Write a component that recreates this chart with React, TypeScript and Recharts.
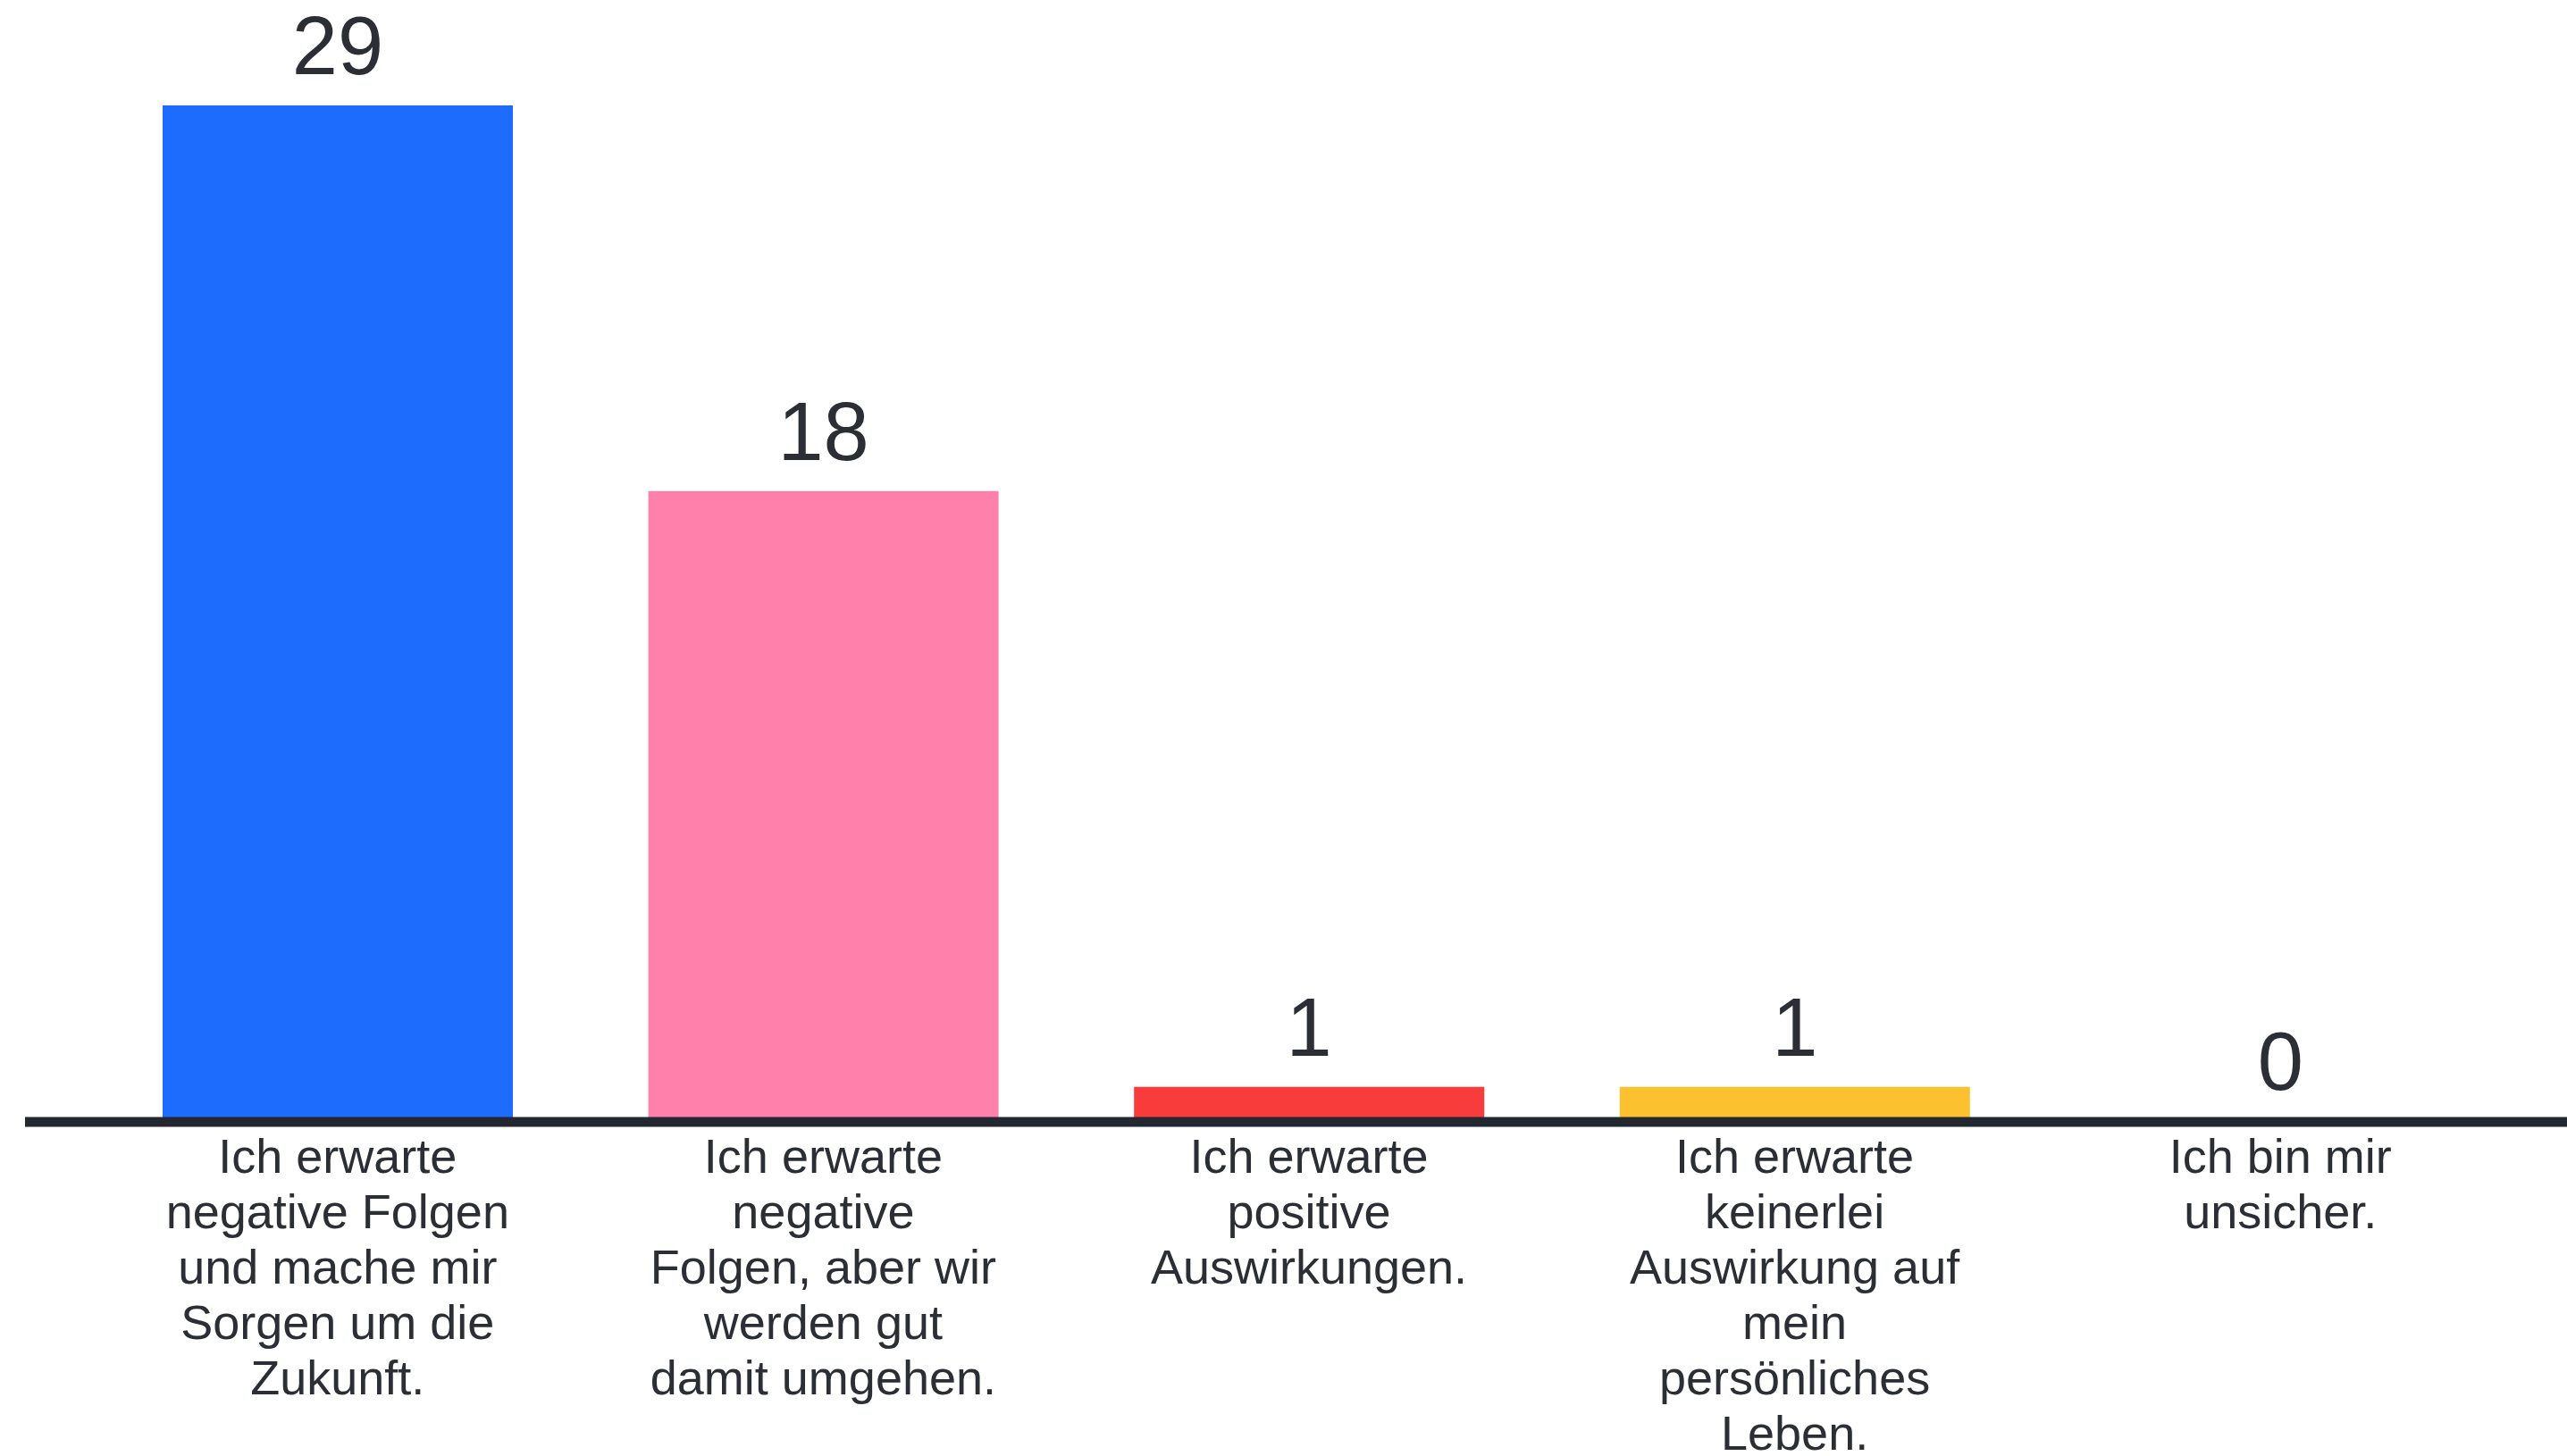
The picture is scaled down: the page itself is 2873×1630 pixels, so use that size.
import React from 'react';
import { BarChart, Bar, XAxis, YAxis, Cell, LabelList } from 'recharts';

const categories = ['negativ-sorgen', 'negativ-gut', 'positiv', 'keine', 'unsicher'];
const counts = [29, 18, 1, 1, 0];
const tickLines = [
  ['Ich erwarte', 'negative Folgen', 'und mache mir', 'Sorgen um die', 'Zukunft.'],
  ['Ich erwarte', 'negative', 'Folgen, aber wir', 'werden gut', 'damit umgehen.'],
  ['Ich erwarte', 'positive', 'Auswirkungen.'],
  ['Ich erwarte', 'keinerlei', 'Auswirkung auf', 'mein', 'persönliches', 'Leben.'],
  ['Ich bin mir', 'unsicher.'],
];
const barColors = ['#1d6cfd', '#ff80ab', '#f83b3b', '#fbc12e', 'transparent'];

const data = categories.map((c, i) => ({ name: c, value: counts[i] }));

const TEXT = '#2b2e35';

const CategoryTick = (props: any) => {
  const { x, y, index } = props;
  const lines = tickLines[index] || [];
  return (
    <text
      x={x}
      y={y}
      textAnchor="middle"
      fill={TEXT}
      fontFamily="'Liberation Sans', Arial, sans-serif"
      fontSize={54}
    >
      {lines.map((l, i) => (
        <tspan key={i} x={x} y={y + 57 + i * 62}>
          {l}
        </tspan>
      ))}
    </text>
  );
};

export default function App() {
  return (
    <div style={{ position: 'absolute', left: 0, top: 0, background: '#fff' }}>
      <BarChart
        width={2873}
        height={1630}
        data={data}
        margin={{ top: 118, right: 0, bottom: 0, left: 28 }}
      >
        <XAxis
          dataKey="name"
          height={374}
          axisLine={{ stroke: '#23272f', strokeWidth: 11 }}
          tickLine={false}
          tickSize={0}
          tickMargin={0}
          interval={0}
          padding={{ left: 78, right: 49 }}
          tick={<CategoryTick />}
        />
        <YAxis hide domain={[0, 29]} width={0} />
        <Bar dataKey="value" barSize={392} minPointSize={1} isAnimationActive={false}>
          {data.map((d, i) => (
            <Cell key={d.name} fill={barColors[i]} />
          ))}
          <LabelList
            dataKey="value"
            position="top"
            offset={35}
            fill={TEXT}
            fontSize={92}
            fontFamily="'Liberation Sans', Arial, sans-serif"
          />
        </Bar>
      </BarChart>
    </div>
  );
}
